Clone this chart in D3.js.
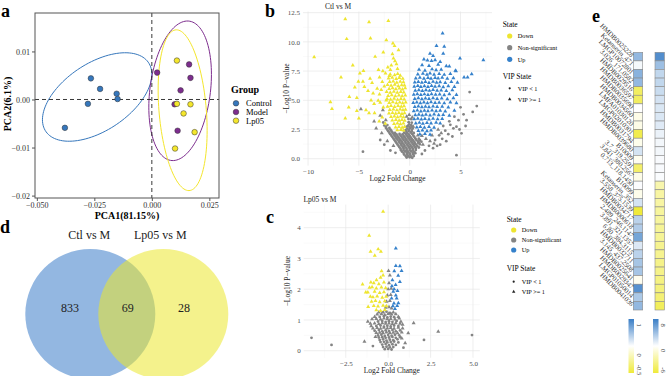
<!DOCTYPE html>
<html>
<head>
<meta charset="utf-8">
<script src="https://cdn.jsdelivr.net/npm/d3@7"></script>
<style>
body { margin: 0; background: #fff; }
svg text { font-family: "Liberation Serif", "DejaVu Serif", serif; }
</style>
</head>
<body>
<svg id="fig" width="669" height="376"></svg>
<script>
var tau = 2 * Math.PI;

// ---------- a : PCA scores ----------
var groups = ["Control", "Model", "Lp05"];
var controlPts = [[-0.0265,0.0044],[-0.0225,0.0022],[-0.0153,0.0012],[-0.0149,0.0001],[-0.0278,-0.0009],[-0.0378,-0.0059]];
var modelPts = [[0.0023,0.0056],[0.0162,0.0073],[0.0168,0.0045],[0.0125,0.0019],[0.0099,-0.0010],[0.0112,-0.0065]];
var lp05Pts = [[0.0109,0.0081],[0.0109,-0.0009],[0.0168,-0.0010],[0.0138,-0.0029],[0.0186,-0.0068],[0.0101,-0.0102]];
// 95% ellipses : centre x, centre y, then two conjugate half axes (data units)
var ellipses = [
	[-0.02378, 0.00052, 0.02378, 0.00473, 0, 0.0079],
	[0.0123, 0.00181, 0.01361, 0.0034, 0, 0.01412],
	[0.01339, -0.00223, 0.01065, -0.00421, 0, 0.01619]];
var pcaXTicks = [-0.05, -0.025, 0, 0.025];
var pcaYTicks = [-0.02, -0.01, 0, 0.01];

// ---------- b : Ctl vs M volcano ----------
var ctlDown = [[-9.4,8.7],[-7.8,4.85],[-7.65,4.26],[-6.76,6.97],[-6.34,11.96],[-6.2,10.25],[-6.34,3.46],[-5.94,5.3],[-5.6,8.0],[-5.2,5.2],[-5.2,4.1],[-5.0,3.46],[-4.9,7.3],[-4.55,7.53],[-4.0,11.7],[-3.86,10.3],[-3.7,6.5],[-3.4,8.73],[-3.07,7.6],[-2.3,10.16],[-2.1,11.8],[-1.65,9.88],[-1.49,9.65],[-1.7,8.96],[-1.45,8.36],[-3.9,6.85],[-4.46,6.16],[-4.1,5.8],[-3.8,5.0],[-3.5,4.7],[-2.97,5.5],[-2.7,6.57],[-4.3,4.17],[-3.46,3.9],[-2.7,3.54],[-5.05,6.6],[-5.4,6.1],[-4.6,6.6],[-2.97,6.97],[-2.64,7.5],[-2.38,7.3],[-2.15,7.83],[-1.81,8.0],[-3.1,4.97],[-2.3,5.0],
	[-1.6,8.6],[-1.3,8.1],[-1.9,7.6],[-1.2,7.7],[-2.0,7.1],[-2.5,6.2],[-2.8,5.9],[-3.2,6.0],[-2.6,4.4],[-3.0,3.2],[-2.4,3.0],[-4.0,3.9],[-3.6,5.6],[-2.9,4.8],[-6.0,4.4],[-1.1,9.3],[-2.6,9.1],
	[-1.92,7.22],[-1.48,7.15],[-1.18,7.26],[-0.93,7.12],[-2.08,6.88],[-1.72,6.95],[-1.33,6.84],[-1.02,6.93],[-0.68,6.86],
	[-1.97,6.58],[-1.62,6.63],[-1.27,6.52],[-0.93,6.61],[-0.62,6.55],[-2.18,6.32],[-1.83,6.25],[-1.47,6.34],[-1.12,6.22],[-0.79,6.3],[-0.52,6.27],
	[-2.02,5.98],[-1.68,6.04],[-1.36,5.95],[-1.01,6.02],[-0.71,5.93],[-0.44,6.05],[-2.27,5.72],[-1.91,5.66],[-1.56,5.74],[-1.22,5.65],[-0.88,5.73],[-0.58,5.68],
	[-2.12,5.38],[-1.77,5.44],[-1.41,5.35],[-1.06,5.43],[-0.74,5.36],[-0.43,5.42],[-2.23,5.12],[-1.88,5.06],[-1.53,5.14],[-1.19,5.05],[-0.86,5.13],[-0.54,5.08],
	[-2.01,4.78],[-1.66,4.84],[-1.31,4.76],[-0.98,4.83],[-0.69,4.77],[-0.39,4.82],[-2.18,4.47],[-1.84,4.52],[-1.49,4.44],[-1.14,4.53],[-0.83,4.46],[-0.56,4.51],
	[-1.96,4.18],[-1.61,4.23],[-1.26,4.15],[-0.94,4.22],[-0.66,4.16],[-0.41,4.21],[-2.04,3.88],[-1.69,3.93],[-1.38,3.86],[-1.06,3.92],[-0.76,3.85],[-0.5,3.91],
	[-1.84,3.58],[-1.51,3.63],[-1.19,3.56],[-0.89,3.62],[-0.61,3.57],[-1.71,3.28],[-1.36,3.33],[-1.04,3.26],[-0.76,3.32],[-0.49,3.27],
	[-1.54,2.98],[-1.21,3.03],[-0.91,2.96],[-0.62,3.02],[-1.39,2.68],[-1.06,2.73],[-0.74,2.66],[-0.51,2.72],[-1.22,2.44],[-0.86,2.48],[-0.6,2.42]];
var ctlUp = [[3.24,10.74],[2.64,9.67],[3.4,9.6],[3.3,9.0],[4.95,8.6],[7.25,8.45],[6.1,7.25],[5.7,6.97],[5.35,6.97],[4.55,7.5],[3.9,7.9],[3.0,8.3],[2.0,9.0],[2.3,8.8],[1.4,8.5],
	[1.75,8.42],[2.15,8.38],[2.5,8.45],[1.22,8.02],[1.9,7.95],[2.8,8.05],[3.6,7.92],
	[0.92,7.62],[1.5,7.55],[2.2,7.66],[2.6,7.58],[3.1,7.63],[4.5,7.55],[0.8,7.22],[1.3,7.28],[1.7,7.2],[2.0,7.3],[2.4,7.21],[2.9,7.27],[3.4,7.19],[4.0,7.26],
	[0.6,6.88],[1.0,6.94],[1.4,6.86],[1.8,6.93],[2.1,6.85],[2.5,6.92],[2.8,6.87],[3.2,6.95],[3.7,6.86],[4.3,6.91],
	[0.5,6.53],[0.85,6.58],[1.2,6.51],[1.55,6.57],[1.9,6.5],[2.3,6.59],[2.65,6.52],[3.0,6.56],[3.5,6.5],[4.1,6.58],[4.7,6.52],
	[0.45,6.18],[0.8,6.24],[1.1,6.16],[1.45,6.22],[1.8,6.15],[2.15,6.23],[2.5,6.17],[2.9,6.21],[3.3,6.14],[3.8,6.22],[4.4,6.16],
	[0.55,5.83],[0.9,5.88],[1.25,5.81],[1.6,5.87],[1.95,5.82],[2.3,5.89],[2.7,5.83],[3.1,5.86],[3.6,5.8],[4.2,5.88],
	[0.4,5.48],[0.75,5.53],[1.1,5.46],[1.45,5.52],[1.8,5.47],[2.15,5.54],[2.55,5.48],[2.95,5.51],[3.4,5.45],[3.9,5.53],[4.6,5.47],
	[0.5,5.13],[0.85,5.18],[1.2,5.11],[1.55,5.17],[1.9,5.12],[2.3,5.19],[2.7,5.13],[3.15,5.16],[3.7,5.1],[4.3,5.18],
	[0.35,4.78],[0.7,4.83],[1.05,4.76],[1.4,4.82],[1.75,4.77],[2.1,4.84],[2.5,4.78],[2.9,4.81],[3.4,4.75],[4.0,4.83],[4.6,4.77],
	[0.5,4.43],[0.85,4.48],[1.2,4.41],[1.55,4.47],[1.9,4.42],[2.3,4.49],[2.7,4.43],[3.2,4.46],[3.8,4.4],
	[0.4,4.08],[0.75,4.13],[1.1,4.06],[1.45,4.12],[1.8,4.07],[2.2,4.14],[2.6,4.08],[3.0,4.11],[3.5,4.05],[4.4,4.12],
	[0.55,3.73],[0.9,3.78],[1.25,3.71],[1.6,3.77],[2.0,3.72],[2.4,3.79],[2.85,3.73],[3.3,3.76],[3.9,3.7],
	[0.45,3.38],[0.8,3.43],[1.15,3.36],[1.5,3.42],[1.9,3.37],[2.3,3.44],[2.75,3.38],[3.2,3.41],
	[0.6,3.03],[0.95,3.08],[1.3,3.01],[1.7,3.07],[2.1,3.02],[2.6,3.09],[3.0,3.03],
	[0.7,2.68],[1.05,2.73],[1.45,2.66],[1.9,2.72],[2.4,2.67],[0.85,2.38],[1.25,2.43],[1.7,2.36],[2.1,2.42],[1.0,2.08],[1.5,2.13],[2.0,2.06]];
var ctlNsCirc = [[-0.3,0.1],[0.0,0.12],[0.25,0.08],[-0.55,0.35],[-0.25,0.38],[0.05,0.33],[0.35,0.37],
	[-0.75,0.6],[-0.45,0.63],[-0.15,0.58],[0.15,0.62],[0.45,0.59],[-0.9,0.85],[-0.6,0.88],[-0.3,0.83],[0.0,0.87],[0.3,0.84],[0.6,0.88],
	[-1.1,1.1],[-0.8,1.13],[-0.5,1.08],[-0.2,1.12],[0.1,1.09],[0.4,1.13],[0.75,1.08],
	[-1.3,1.35],[-1.0,1.38],[-0.7,1.33],[-0.4,1.37],[-0.1,1.34],[0.2,1.38],[0.5,1.33],[0.85,1.37],
	[-1.5,1.6],[-1.2,1.63],[-0.9,1.58],[-0.6,1.62],[-0.3,1.59],[0.0,1.63],[0.3,1.58],[0.65,1.62],[1.0,1.59],
	[-1.7,1.85],[-1.4,1.88],[-1.1,1.83],[-0.8,1.87],[-0.5,1.84],[-0.2,1.88],[0.1,1.83],[0.45,1.87],
	[-1.9,2.1],[-1.6,2.13],[-1.3,2.08],[-1.0,2.12],[-0.7,2.09],[-0.4,2.13],[-0.1,2.08],[0.25,2.12],
	[-2.1,2.35],[-1.8,2.38],[-0.35,2.33],[-0.1,2.37],[0.2,2.34],[-2.3,2.6],[-2.0,2.63],[-0.25,2.58],[0.05,2.62],[0.3,2.59],
	[-2.5,2.85],[-2.2,2.88],[-0.15,2.83],[0.15,2.87],[-2.6,3.1],[-0.1,3.12],[0.2,3.08],[-0.12,3.4],[0.15,3.38],
	[-0.4,0.22],[-0.15,0.24],[0.12,0.2],[0.4,0.23],[-0.6,0.48],[-0.3,0.5],[0.0,0.46],[0.3,0.49],[0.55,0.47],
	[-0.85,0.72],[-0.6,0.74],[-0.3,0.7],[0.0,0.73],[0.3,0.71],[0.6,0.74],
	[-1.0,0.97],[-0.65,0.99],[-0.35,0.95],[-0.05,0.98],[0.25,0.96],[0.55,0.99],[0.9,0.96],
	[-1.2,1.22],[-0.85,1.24],[-0.55,1.2],[-0.25,1.23],[0.05,1.21],[0.35,1.24],[0.65,1.2],[1.0,1.23],
	[-1.4,1.47],[-1.05,1.49],[-0.75,1.45],[-0.45,1.48],[-0.15,1.46],[0.15,1.49],[0.45,1.45],[0.8,1.48],[1.15,1.46],
	[-1.6,1.72],[-1.3,1.74],[-1.0,1.7],[-0.7,1.73],[-0.4,1.71],[-0.1,1.74],[0.2,1.7],[0.55,1.73],[0.9,1.71],
	[-1.8,1.97],[-1.5,1.99],[-1.2,1.95],[-0.9,1.98],[-0.6,1.96],[-0.3,1.99],[0.0,1.95],[0.35,1.98],
	[-2.0,2.22],[-1.7,2.24],[-1.45,2.2],[-0.55,2.23],[-0.25,2.21],[0.1,2.24],[0.4,2.2],
	[-2.2,2.47],[-1.9,2.49],[-0.4,2.45],[-0.1,2.48],[0.2,2.46],[-2.35,2.72],[-0.3,2.74],[0.0,2.7],[0.25,2.73],
	[-4.6,0.6],[-2.9,1.6],[-2.5,1.2],[-1.9,0.7],[-1.4,0.5],[1.2,0.4],[1.5,0.7],[1.9,1.1],[2.3,0.9],[4.6,0.3],
	[2.5,1.6],[2.9,2.0],[3.2,1.7],[3.5,2.4],[3.8,2.1],[4.0,2.9],[4.3,2.6],[4.6,2.74],[5.1,2.17],[4.8,3.3],[5.3,3.8],[5.9,5.7],[6.6,4.5],
	[3.0,1.2],[3.6,1.5],[4.2,1.9],[5.5,2.8],[5.0,4.4],[4.4,3.6],[3.9,3.2],[2.7,1.1],[6.2,4.0],[5.6,3.3],[4.9,2.5],[3.3,2.8]];
var ctlNsTri = [[-4.8,4.25],[-2.64,4.17],[-3.3,2.6],[-3.5,3.2],[-2.35,3.3],[-2.75,2.2],[-2.9,3.7],[-0.3,3.6],[-0.05,3.75],[0.25,3.55],
	[0.8,2.0],[1.2,1.95],[1.6,1.7],[2.0,1.5],[2.4,1.3],[1.3,1.2],[2.8,2.5],[3.1,2.2],[-2.2,1.5],[-1.6,1.1],[0.9,1.4],[2.2,2.0],[-0.05,2.95],[0.35,2.75]];
var ctlXTicks = [-10, -5, 0, 5], ctlXMinor = [-7.5, -2.5, 2.5, 7.5];
var ctlYTicks = [0, 2.5, 5, 7.5, 10, 12.5], ctlYMinor = [1.25, 3.75, 6.25, 8.75, 11.25];

// ---------- c : Lp05 vs M volcano ----------
var lpDown = [[-0.3,4.52],[-1.12,3.74],[-0.59,3.3],[-1.04,3.22],[-0.43,3.22],[-0.79,3.09],[-1.51,2.16],[-1.32,1.9],[-1.02,2.22],[-0.69,2.3],[-0.39,2.59],[-1.18,1.43],[-0.3,2.45],[-0.45,2.38],
	[-0.85,2.2],[-0.55,2.17],[-0.25,2.22],[-1.1,2.05],[-0.95,2.07],[-0.7,2.03],[-0.4,2.06],[-0.15,2.04],[-1.2,1.9],[-0.8,1.92],[-0.5,1.88],[-0.25,1.91],
	[-1.05,1.76],[-0.9,1.74],[-0.65,1.77],[-0.35,1.73],[-0.12,1.76],[-0.98,1.6],[-0.75,1.62],[-0.5,1.58],[-0.2,1.61],
	[-0.85,1.46],[-0.6,1.44],[-0.3,1.47],[-0.1,1.45],[-0.7,1.32],[-0.45,1.3],[-0.2,1.33]];
var lpUp = [[0.45,3.33],[0.45,2.76],[0.69,2.75],[0.36,2.59],[0.79,2.6],[0.59,2.44],[0.69,2.24],[0.44,2.14],[0.3,1.92],[0.5,1.7],[0.34,1.54],
	[0.53,1.46],[0.4,1.36],[0.2,1.7],[0.25,2.3],[0.55,1.95],[0.35,2.0],[0.6,1.55],[0.28,1.45],[0.45,1.8],[0.22,2.1]];
var lpNsCirc = [[-0.2,0.05],[0.0,0.06],[0.2,0.04],[-0.35,0.2],[-0.15,0.22],[0.05,0.18],[0.25,0.21],[0.45,0.19],
	[-0.5,0.35],[-0.3,0.37],[-0.1,0.33],[0.1,0.36],[0.3,0.34],[0.55,0.37],[-0.6,0.5],[-0.4,0.52],[-0.2,0.48],[0.0,0.51],[0.2,0.49],[0.4,0.52],[0.65,0.5],
	[-0.8,0.65],[-0.55,0.67],[-0.35,0.63],[-0.15,0.66],[0.05,0.64],[0.25,0.67],[0.45,0.63],[0.7,0.66],
	[-0.7,0.8],[-0.45,0.82],[-0.25,0.78],[-0.05,0.81],[0.15,0.79],[0.35,0.82],[0.6,0.8],
	[-0.6,0.95],[-0.35,0.97],[-0.15,0.93],[0.05,0.96],[0.25,0.94],[0.5,0.97],[-0.5,1.1],[-0.25,1.12],[-0.05,1.08],[0.15,1.11],[0.35,1.09],
	[-0.3,1.25],[-0.1,1.27],[0.1,1.23],
	[-0.3,0.12],[-0.1,0.13],[0.1,0.11],[0.3,0.12],[-0.45,0.28],[-0.25,0.29],[-0.05,0.27],[0.15,0.28],[0.35,0.3],[0.6,0.27],
	[-0.55,0.43],[-0.35,0.44],[-0.15,0.42],[0.05,0.43],[0.25,0.45],[0.45,0.42],[0.7,0.44],
	[-4.52,0.42],[-3.34,0.19],[2.11,0.35],[4.94,0.51],[0.9,0.1],[-0.9,0.15]];
var lpNsTri = [[-1.0,0.8],[-1.2,0.95],[0.85,0.85],[0.75,0.95],[-0.8,1.1],[0.6,1.1],[1.18,0.57],[2.95,0.62],[1.0,0.25],[-1.4,0.3],
	[-0.15,1.4],[0.05,1.42],[0.2,1.38],[-0.1,1.6],[0.1,1.62],[-0.05,1.8],[0.15,1.82],[0.0,2.0],[0.18,2.02],[0.05,2.2],[0.1,2.45],[0.02,2.6],
	[-0.55,1.25],[0.3,1.25],[-0.75,0.45],[0.8,0.4],[1.5,0.9],
	[-0.7,0.58],[-0.5,0.59],[-0.3,0.57],[-0.1,0.6],[0.1,0.58],[0.3,0.59],[0.55,0.57],[0.8,0.6],
	[-0.9,0.73],[-0.65,0.74],[-0.45,0.72],[-0.25,0.75],[-0.05,0.73],[0.15,0.74],[0.35,0.72],[0.6,0.75],[0.85,0.73],
	[-1.05,0.88],[-0.8,0.89],[-0.55,0.87],[-0.35,0.9],[-0.15,0.88],[0.05,0.89],[0.25,0.87],[0.45,0.9],[0.7,0.88],
	[-0.95,1.03],[-0.7,1.04],[-0.45,1.02],[-0.25,1.05],[-0.05,1.03],[0.15,1.04],[0.4,1.02],[0.65,1.05],
	[-0.65,1.18],[-0.4,1.19],[-0.2,1.17],[0.0,1.2],[0.2,1.18],[0.45,1.19]];
var lpXTicks = [-2.5, 0, 2.5, 5], lpXMinor = [-3.75, -1.25, 1.25, 3.75];
var lpYTicks = [0, 1, 2, 3, 4], lpYMinor = [0.5, 1.5, 2.5, 3.5, 4.5];

var stateLabels = ["Down", "Non-significant", "Up"];
var vipLabels = ["VIP < 1", "VIP >= 1"];

// ---------- d : Venn ----------
var vennSets = ["Ctl vs M", "Lp05 vs M"];
var vennCounts = [833, 69, 28];

// ---------- e : heatmap ----------
var metabolites = ["HMDB0025228","Ketanserin_471","LMGP10072801","3.026_171.0582","HMDB0029516","HMDB0036597","HMDB0035690","HMDB0034560",
	"LMFA01030120","LMGP02010301","HMDB0031794","HMDB0039680","B10009","3.7_319.2591","3.841_380.2567","0.713_118.1450","B10099",
	"Ketanserin_352","3.558_375.1539","HMDB0034717","HMDB0000618","2.489_246.1147","3.891_321.1357","6.80_384.3115","HMDB0032711",
	"3.145_437.2508","HMDB0025641","HMDB0029347","LMGP01050014","HMDB0041036"];
var ctlFC = [0.55,0.05,0.6,0.55,-0.4,-0.4,0.0,-0.06,-0.06,-0.45,-0.05,0.22,-0.04,-0.38,-0.06,0.02,-0.05,0.22,-0.5,0.35,0.4,0.7,0.18,0.35,0.45,0.45,-0.04,0.85,0.42,0.55];
var lpFC = [7,4,2.5,2.5,2.2,1.8,1.5,1.5,1.3,0.8,0.5,0.5,0.3,0.3,0.2,-2.5,-2.8,-2.8,-3,-3,-3.2,-3.2,-3.4,-3.4,-3.6,-3.6,-3.8,-4,-4.2,-5];
var leg1Ticks = [1, 0, -0.5];
var leg2Ticks = [8, 0, -6];

var groupColors = ["#3677bc", "#7d2d8e", "#f4e62c"];
var stateColors = ["#eee530", "#848484", "#3581cb"];
var heatLow = "#efea3a", heatMid = "#ffffff", heatHigh = "#3a7ec6";

var svg = d3.select("#fig");

function panelLetter(x, y, s) {
	svg.append("text").attr("x", x).attr("y", y).text(s)
		.attr("font-size", 18).attr("font-weight", "bold");
}

// ======================= a =======================
var ax = d3.scaleLinear().domain([-0.0508, 0.0292]).range([35, 219]);
var ay = d3.scaleLinear().domain([-0.0205, 0.0180]).range([198, 13]);
var pa = svg.append("g");

ellipses.forEach(function(e, i) {
	var pts = d3.range(0, 121).map(function(k) {
		var t = k / 120 * tau;
		return [ax(e[0] + e[2] * Math.cos(t) + e[4] * Math.sin(t)), ay(e[1] + e[3] * Math.cos(t) + e[5] * Math.sin(t))];
	});
	pa.append("path").attr("d", d3.line()(pts))
		.attr("fill", "none").attr("stroke", groupColors[i]).attr("stroke-width", 1);
});

pa.append("line").attr("x1", ax(0)).attr("x2", ax(0)).attr("y1", 13).attr("y2", 198)
	.attr("stroke", "#222").attr("stroke-dasharray", "4,3").attr("stroke-width", 0.9);
pa.append("line").attr("x1", 35).attr("x2", 219).attr("y1", ay(0)).attr("y2", ay(0))
	.attr("stroke", "#222").attr("stroke-dasharray", "4,3").attr("stroke-width", 0.9);

[controlPts, modelPts, lp05Pts].forEach(function(set, i) {
	pa.selectAll(null).data(set).enter().append("circle")
		.attr("cx", function(d) { return ax(d[0]); })
		.attr("cy", function(d) { return ay(d[1]); })
		.attr("r", 2.8)
		.attr("fill", groupColors[i]).attr("stroke", "#333").attr("stroke-width", 0.5);
});

pa.append("rect").attr("x", 35).attr("y", 13).attr("width", 184).attr("height", 185)
	.attr("fill", "none").attr("stroke", "#555").attr("stroke-width", 1);

var axA = pa.append("g").attr("transform", "translate(0,198)")
	.call(d3.axisBottom(ax).tickValues(pcaXTicks).tickFormat(d3.format(".3f")).tickSize(3).tickPadding(1.5));
var ayA = pa.append("g").attr("transform", "translate(35,0)")
	.call(d3.axisLeft(ay).tickValues(pcaYTicks).tickFormat(d3.format(".2f")).tickSize(3).tickPadding(2));
[axA, ayA].forEach(function(g) {
	g.select(".domain").remove();
	g.selectAll(".tick line").attr("stroke", "#555");
	g.selectAll(".tick text").attr("font-size", 8).attr("fill", "#333")
		.attr("font-family", '"Liberation Serif", serif');
});

pa.append("text").attr("x", 127).attr("y", 219).attr("text-anchor", "middle")
	.attr("font-size", 10).attr("font-weight", "bold").text("PCA1(81.15%)");
pa.append("text").attr("transform", "translate(11,104) rotate(-90)").attr("text-anchor", "middle")
	.attr("font-size", 10).attr("font-weight", "bold").text("PCA2(6.1%)");

pa.append("text").attr("x", 231).attr("y", 93).attr("font-size", 10).attr("font-weight", "bold").text("Group");
groups.forEach(function(gname, i) {
	var yy = 103.3 + i * 8.7;
	pa.append("circle").attr("cx", 236).attr("cy", yy).attr("r", 2.8)
		.attr("fill", groupColors[i]).attr("stroke", "#333").attr("stroke-width", 0.5);
	pa.append("text").attr("x", 246).attr("y", yy + 3).attr("font-size", 8.5).text(gname);
});
panelLetter(1, 17, "a");

// ======================= b / c volcano =======================
function volcano(opt) {
	var g = svg.append("g");
	var x = d3.scaleLinear().domain(opt.xd).range(opt.xr);
	var y = d3.scaleLinear().domain(opt.yd).range(opt.yr);
	// grid
	opt.xMinor.forEach(function(v) {
		if (x(v) < opt.xr[0] || x(v) > opt.xr[1]) return;
		g.append("line").attr("x1", x(v)).attr("x2", x(v)).attr("y1", opt.yr[0]).attr("y2", opt.yr[1])
			.attr("stroke", "#f2f2f2").attr("stroke-width", 0.4);
	});
	opt.yMinor.forEach(function(v) {
		if (y(v) > opt.yr[0] || y(v) < opt.yr[1]) return;
		g.append("line").attr("x1", opt.xr[0]).attr("x2", opt.xr[1]).attr("y1", y(v)).attr("y2", y(v))
			.attr("stroke", "#f2f2f2").attr("stroke-width", 0.4);
	});
	opt.xTicks.forEach(function(v) {
		g.append("line").attr("x1", x(v)).attr("x2", x(v)).attr("y1", opt.yr[0]).attr("y2", opt.yr[1])
			.attr("stroke", "#e6e6e6").attr("stroke-width", 0.7);
	});
	opt.yTicks.forEach(function(v) {
		g.append("line").attr("x1", opt.xr[0]).attr("x2", opt.xr[1]).attr("y1", y(v)).attr("y2", y(v))
			.attr("stroke", "#e6e6e6").attr("stroke-width", 0.7);
	});

	var tri = d3.symbol().type(d3.symbolTriangle).size(7);
	function tris(data, col) {
		g.selectAll(null).data(data).enter().append("path").attr("d", tri)
			.attr("transform", function(d) { return "translate(" + x(d[0]) + "," + y(d[1]) + ")"; })
			.attr("fill", col);
	}
	function circs(data, col) {
		g.selectAll(null).data(data).enter().append("circle")
			.attr("cx", function(d) { return x(d[0]); })
			.attr("cy", function(d) { return y(d[1]); })
			.attr("r", 1.4).attr("fill", col);
	}
	circs(opt.nsCirc, stateColors[1]);
	tris(opt.nsTri, stateColors[1]);
	tris(opt.down, stateColors[0]);
	tris(opt.up, stateColors[2]);

	var xa = g.append("g").attr("transform", "translate(0," + opt.yr[0] + ")")
		.call(d3.axisBottom(x).tickValues(opt.xTicks).tickFormat(d3.format(opt.xFmt)).tickSize(0).tickPadding(3));
	var ya = g.append("g").attr("transform", "translate(" + opt.xr[0] + ",0)")
		.call(d3.axisLeft(y).tickValues(opt.yTicks).tickFormat(d3.format(opt.yFmt)).tickSize(0).tickPadding(3));
	[xa, ya].forEach(function(a) {
		a.select(".domain").remove();
		a.selectAll(".tick text").attr("font-size", 7).attr("fill", "#4d4d4d")
			.attr("font-family", '"Liberation Serif", serif');
	});
	var cxm = (opt.xr[0] + opt.xr[1]) / 2, cym = (opt.yr[0] + opt.yr[1]) / 2;
	g.append("text").attr("x", cxm).attr("y", opt.yr[0] + 15.5).attr("text-anchor", "middle")
		.attr("font-size", 7.5).attr("fill", "#222").text("Log2 Fold Change");
	g.append("text").attr("transform", "translate(" + (opt.xr[0] - 14) + "," + cym + ") rotate(-90)")
		.attr("text-anchor", "middle").attr("font-size", 7.5).attr("fill", "#222").text("\u2212Log10 P\u2212value");
	g.append("text").attr("x", opt.titleX).attr("y", opt.titleY).attr("font-size", 7.5).attr("fill", "#222").text(opt.title);

	// legend
	var L = opt.leg;
	g.append("text").attr("x", L.x).attr("y", L.ys[0] + 2.6).attr("font-size", 7.5).text("State");
	stateLabels.forEach(function(s, i) {
		var yy = L.ys[i + 1];
		g.append("circle").attr("cx", L.x + 7).attr("cy", yy).attr("r", 2.6).attr("fill", stateColors[i]);
		g.append("text").attr("x", L.x + 15).attr("y", yy + 2.2).attr("font-size", 6.3).text(s);
	});
	g.append("text").attr("x", L.x).attr("y", L.ys[4] + 2.6).attr("font-size", 7.5).text("VIP State");
	g.append("circle").attr("cx", L.x + 7).attr("cy", L.ys[5]).attr("r", 1.1).attr("fill", "#222");
	g.append("path").attr("d", d3.symbol().type(d3.symbolTriangle).size(5))
		.attr("transform", "translate(" + (L.x + 7) + "," + L.ys[6] + ")").attr("fill", "#222");
	vipLabels.forEach(function(s, i) {
		g.append("text").attr("x", L.x + 15).attr("y", L.ys[5 + i] + 2.2).attr("font-size", 6.3).text(s);
	});
}

volcano({
	xd: [-10.5, 8.1], xr: [303, 492], yd: [-0.6, 12.6], yr: [165.7, 11.5],
	xTicks: ctlXTicks, xMinor: ctlXMinor, yTicks: ctlYTicks, yMinor: ctlYMinor, xFmt: "d", yFmt: ".1f",
	down: ctlDown, up: ctlUp, nsCirc: ctlNsCirc, nsTri: ctlNsTri,
	title: "Ctl vs M", titleX: 325, titleY: 8.5,
	leg: { x: 502.7, ys: [24, 36, 47.7, 59.3, 76, 88.3, 99.3] }
});
volcano({
	xd: [-4.98, 5.4], xr: [303.7, 479.8], yd: [-0.23, 4.75], yr: [357.8, 204.6],
	xTicks: lpXTicks, xMinor: lpXMinor, yTicks: lpYTicks, yMinor: lpYMinor, xFmt: ".1f", yFmt: "d",
	down: lpDown, up: lpUp, nsCirc: lpNsCirc, nsTri: lpNsTri,
	title: "Lp05 vs M", titleX: 303.5, titleY: 201.5,
	leg: { x: 506.7, ys: [219, 230, 240, 250, 268.3, 281.7, 291.7] }
});
panelLetter(265, 17, "b");
panelLetter(266, 223, "c");

// ======================= d venn =======================
var vx = d3.scaleLinear().domain([0, 1]).range([90.3, 163.3]);
var pd = svg.append("g");
pd.append("circle").attr("cx", vx(0)).attr("cy", 314).attr("r", 65)
	.attr("fill", "#3a7cc8").attr("fill-opacity", 0.55);
pd.append("circle").attr("cx", vx(1)).attr("cy", 314).attr("r", 65)
	.attr("fill", "#ebe72e").attr("fill-opacity", 0.55);
vennSets.forEach(function(s, i) {
	pd.append("text").attr("x", vx(i) - 1 + i * -2).attr("y", 239).attr("text-anchor", "middle")
		.attr("font-size", 12).attr("fill", "#222").text(s);
});
var countX = [70, 127.7, 184];
vennCounts.forEach(function(c, i) {
	pd.append("text").attr("x", countX[i]).attr("y", 312).attr("text-anchor", "middle")
		.attr("font-size", 12).attr("fill", "#222").text(c);
});
panelLetter(0, 233, "d");

// ======================= e heatmap =======================
var pe = svg.append("g");
var ry = d3.scaleBand().domain(d3.range(metabolites.length)).range([52.3, 310]);
var colX = [633.3, 655];
var cw = 9.4;
var c1 = d3.scaleLinear().domain([-0.5, 0, 1]).range([heatLow, heatMid, heatHigh]);
var c2 = d3.scaleLinear().domain([-6, 0, 8]).range([heatLow, heatMid, heatHigh]);
[[ctlFC, c1], [lpFC, c2]].forEach(function(pair, j) {
	pe.selectAll(null).data(pair[0]).enter().append("rect")
		.attr("x", colX[j]).attr("y", function(d, i) { return ry(i); })
		.attr("width", cw).attr("height", ry.bandwidth())
		.attr("fill", function(d) { return pair[1](d); })
		.attr("stroke", "#8a8a8a").attr("stroke-width", 0.6);
});
pe.selectAll(null).data(metabolites).enter().append("text")
	.attr("transform", function(d, i) { return "translate(631," + (ry(i) + ry.bandwidth() / 2 + 1) + ") rotate(45)"; })
	.attr("text-anchor", "end").attr("font-size", 6.8).attr("fill", "#333").text(function(d) { return d; });

var defs = svg.append("defs");
var grad = defs.append("linearGradient").attr("id", "hg").attr("x1", 0).attr("x2", 0).attr("y1", 0).attr("y2", 1);
[heatHigh, heatMid, heatLow].forEach(function(c, i) {
	grad.append("stop").attr("offset", i * 50 + "%").attr("stop-color", c);
});
var barX = [628.5, 653];
var ly1 = d3.scaleLinear().domain([1, -0.5]).range([325, 370]);
var ly2 = d3.scaleLinear().domain([8, -6]).range([325, 370]);
[[leg1Ticks, ly1], [leg2Ticks, ly2]].forEach(function(pair, j) {
	pe.append("rect").attr("x", barX[j]).attr("y", 319).attr("width", 5.5).attr("height", 54).attr("fill", "url(#hg)");
	pair[0].forEach(function(t) {
		pe.append("text").attr("transform", "translate(" + (barX[j] + 8) + "," + pair[1](t) + ") rotate(90)")
			.attr("text-anchor", "middle").attr("font-size", 6.5).attr("fill", "#333").text(t);
	});
});
panelLetter(592, 22, "e");
</script>
</body>
</html>
